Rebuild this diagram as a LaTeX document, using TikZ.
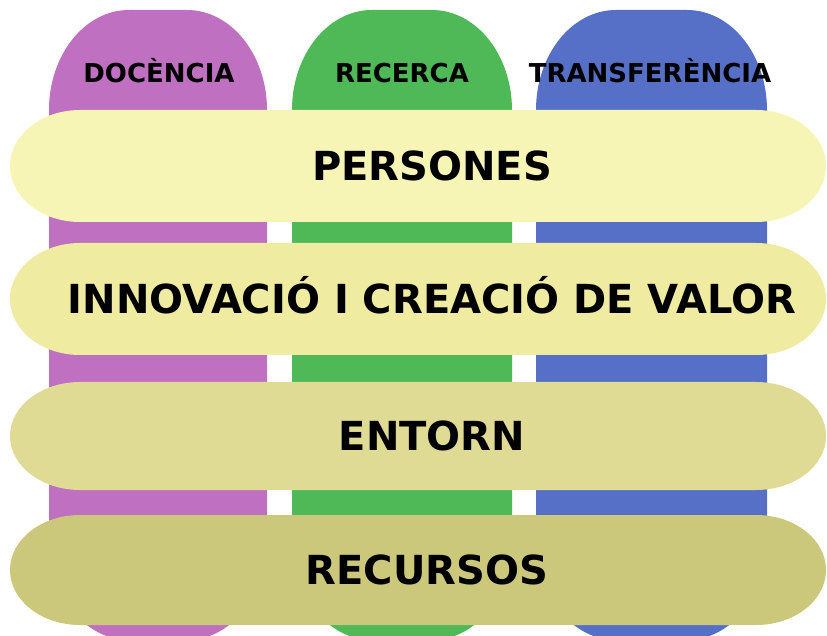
\documentclass[tikz,border=0pt]{standalone}
\usepackage{fontspec}
\setmainfont{DejaVu Sans}
\definecolor{docencia}{RGB}{192,112,192}
\definecolor{recerca}{RGB}{78,185,86}
\definecolor{transfer}{RGB}{86,112,200}
\definecolor{persones}{RGB}{247,245,182}
\definecolor{innovacio}{RGB}{239,235,160}
\definecolor{entorn}{RGB}{223,219,149}
\definecolor{recursos}{RGB}{203,200,123}

\begin{document}
\begin{tikzpicture}[x=1pt, y=1pt,
    titol/.style={font=\bfseries\fontsize{26}{26}\selectfont, inner sep=0pt, anchor=base},
    eix/.style={font=\bfseries\fontsize{40}{40}\selectfont, inner sep=0pt, anchor=base}]

    \useasboundingbox (0,0) rectangle (827,635);
    \clip (0,0) rectangle (827,635);

    % pilars
    \fill[docencia] (49,95) -- (49,525) arc[start angle=180, end angle=90, x radius=80, y radius=100]
        -- (187,625) arc[start angle=90, end angle=0, x radius=80, y radius=100]
        -- (267,95) arc[start angle=0, end angle=-90, x radius=80, y radius=100]
        -- (129,-5) arc[start angle=270, end angle=180, x radius=80, y radius=100] -- cycle;
    \fill[recerca] (292,95) -- (292,525) arc[start angle=180, end angle=90, x radius=80, y radius=100]
        -- (432,625) arc[start angle=90, end angle=0, x radius=80, y radius=100]
        -- (512,95) arc[start angle=0, end angle=-90, x radius=80, y radius=100]
        -- (372,-5) arc[start angle=270, end angle=180, x radius=80, y radius=100] -- cycle;
    \fill[transfer] (536,95) -- (536,525) arc[start angle=180, end angle=90, x radius=80, y radius=100]
        -- (687,625) arc[start angle=90, end angle=0, x radius=80, y radius=100]
        -- (767,95) arc[start angle=0, end angle=-90, x radius=80, y radius=100]
        -- (616,-5) arc[start angle=270, end angle=180, x radius=80, y radius=100] -- cycle;

    \node[titol] (doc) at (159,552) {DOCÈNCIA};
    \node[titol] (rec) at (402,552) {RECERCA};
    \node[titol] (tra) at (650,552) {TRANSFERÈNCIA};

    % eixos transversals
    \fill[persones] (80,525) -- (756,525) arc[start angle=90, end angle=-90, x radius=70, y radius=56]
        -- (80,413) arc[start angle=270, end angle=90, x radius=70, y radius=56] -- cycle;
    \fill[innovacio] (80,392) -- (756,392) arc[start angle=90, end angle=-90, x radius=70, y radius=56]
        -- (80,280) arc[start angle=270, end angle=90, x radius=70, y radius=56] -- cycle;
    \fill[entorn] (80,253) -- (756,253) arc[start angle=90, end angle=-90, x radius=70, y radius=54]
        -- (80,145) arc[start angle=270, end angle=90, x radius=70, y radius=54] -- cycle;
    \fill[recursos] (80,120) -- (756,120) arc[start angle=90, end angle=-90, x radius=70, y radius=55]
        -- (80,10) arc[start angle=270, end angle=90, x radius=70, y radius=55] -- cycle;

    \node[eix] (pers) at (432,454.5) {PERSONES};
    \node[eix] (innov) at (432,321.5) {INNOVACIÓ I CREACIÓ DE VALOR};
    \node[eix] (ent) at (432,184.5) {ENTORN};
    \node[eix] (recur) at (427,50.5) {RECURSOS};

\end{tikzpicture}
\end{document}
